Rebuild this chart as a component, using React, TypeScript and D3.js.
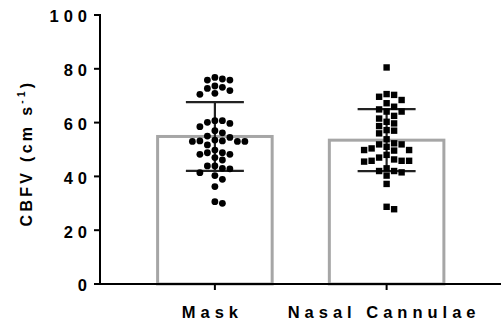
import * as d3 from "d3";

const groups = ["Mask", "Nasal Cannulae"];

const maskValues = [
  76.2, 75.8, 76.8, 75.8, 73.1, 73.6, 72.7, 71.9, 70.5, 70.9,
  60.7, 59.7, 60.1, 60.7, 58.5, 57.0, 56.2, 55.0,
  53.5, 53.0, 53.0, 53.0, 53.2, 53.2, 54.5, 51.7,
  49.8, 48.8, 48.2, 47.0, 48.2, 48.8, 46.1,
  43.9, 43.9, 42.8, 43.0, 41.4, 40.3, 38.9, 36.2, 30.0, 30.6,
];

const nasalValues = [
  80.5, 70.6, 69.6, 70.3, 67.2, 68.4, 65.9, 64.1, 64.1, 64.9,
  62.5, 61.5, 60.3, 59.7, 58.7, 57.2, 57.0, 56.0, 53.8,
  51.9, 51.9, 52.3, 51.0, 50.4, 49.8, 49.6, 49.8,
  48.0, 47.0, 45.8, 45.8, 45.5, 45.8, 46.3,
  43.0, 42.0, 41.5, 42.0, 40.3, 37.2, 28.7, 27.8,
];

const yTicks = [0, 20, 40, 60, 80, 100];

const width = 501;
const height = 329;

const y = d3.scaleLinear().domain([0, 100]).range([284, 15]);
const x = d3.scalePoint().domain(groups).range([100, 501.5]).padding(0.669);
const barW = x.step() * 0.667;

const font = "'Liberation Sans', Arial, sans-serif";

// simple beeswarm: try offsets out from the centre until no overlap
function swarm(vals: number[], cx: number, spacing: number) {
  const sorted = vals.map((v, i) => ({ v, i })).sort((a, b) => b.v - a.v);
  const placed: { x: number; y: number; v: number }[] = [];
  const d = 7;
  sorted.forEach((p) => {
    const py = y(p.v);
    for (let k = 0; k < 30; k++) {
      const off = k === 0 ? 0 : (k % 2 ? 1 : -1) * Math.ceil(k / 2) * spacing;
      const px = cx + off;
      const hit = placed.some((q) => Math.hypot(q.x - px, q.y - py) < d);
      if (!hit) {
        placed.push({ x: px, y: py, v: p.v });
        break;
      }
    }
  });
  return placed;
}

export default function App() {
  const series = [maskValues, nasalValues];
  return (
    <svg width={width} height={height} style={{ position: "absolute", left: 0, top: 0, background: "#fff" }} fontFamily={font}>
      {/* bars */}
      {groups.map((g, i) => {
        const m = d3.mean(series[i]) as number;
        return (
          <rect key={g} x={(x(g) as number) - barW / 2} y={y(m)} width={barW} height={y(0) - y(m)}
            fill="none" stroke="#a6a6a6" strokeWidth={3} />
        );
      })}
      {/* error bars, mean +- SD */}
      {groups.map((g, i) => {
        const m = d3.mean(series[i]) as number;
        const sd = d3.deviation(series[i]) as number;
        const cx = x(g) as number;
        return (
          <g key={g} stroke="#222" strokeWidth={2.2}>
            <line x1={cx} x2={cx} y1={y(m + sd)} y2={y(m - sd)} />
            <line x1={cx - 29} x2={cx + 29} y1={y(m + sd)} y2={y(m + sd)} />
            <line x1={cx - 29} x2={cx + 29} y1={y(m - sd)} y2={y(m - sd)} />
          </g>
        );
      })}
      {/* points */}
      {swarm(maskValues, x("Mask") as number, 7.5).map((p, i) => (
        <circle key={"m" + i} cx={p.x} cy={p.y} r={3.4} fill="#000" />
      ))}
      {swarm(nasalValues, x("Nasal Cannulae") as number, 7.5).map((p, i) => (
        <rect key={"n" + i} x={p.x - 3.2} y={p.y - 3.2} width={6.4} height={6.4} fill="#000" />
      ))}
      {/* y axis */}
      <line x1={100} x2={100} y1={y(100) - 1} y2={y(0) + 1} stroke="#000" strokeWidth={2} />
      {yTicks.map((t) => (
        <g key={t}>
          <line x1={94} x2={100} y1={y(t)} y2={y(t)} stroke="#000" strokeWidth={2} />
          <text x={92} y={y(t)} dy="0.45em" textAnchor="end" fontSize={16.5} fontWeight="bold" letterSpacing={5}>
            {t}
          </text>
        </g>
      ))}
      {/* x axis */}
      <line x1={99} x2={501} y1={y(0)} y2={y(0)} stroke="#000" strokeWidth={2} />
      {groups.map((g) => (
        <g key={g}>
          <line x1={x(g)} x2={x(g)} y1={y(0)} y2={y(0) + 6} stroke="#000" strokeWidth={2} />
          <text x={(x(g) as number) - 2.5} y={318} textAnchor="middle" fontSize={16.5} fontWeight="bold" letterSpacing={5}>
            {g}
          </text>
        </g>
      ))}
      {/* y label */}
      <text transform={`translate(32, 153) rotate(-90)`} textAnchor="middle" fontSize={16} fontWeight="bold" letterSpacing={3.3}>
        CBFV (cm s<tspan fontSize={10} dy={-7}>-1</tspan><tspan dy={7}>)</tspan>
      </text>
    </svg>
  );
}
